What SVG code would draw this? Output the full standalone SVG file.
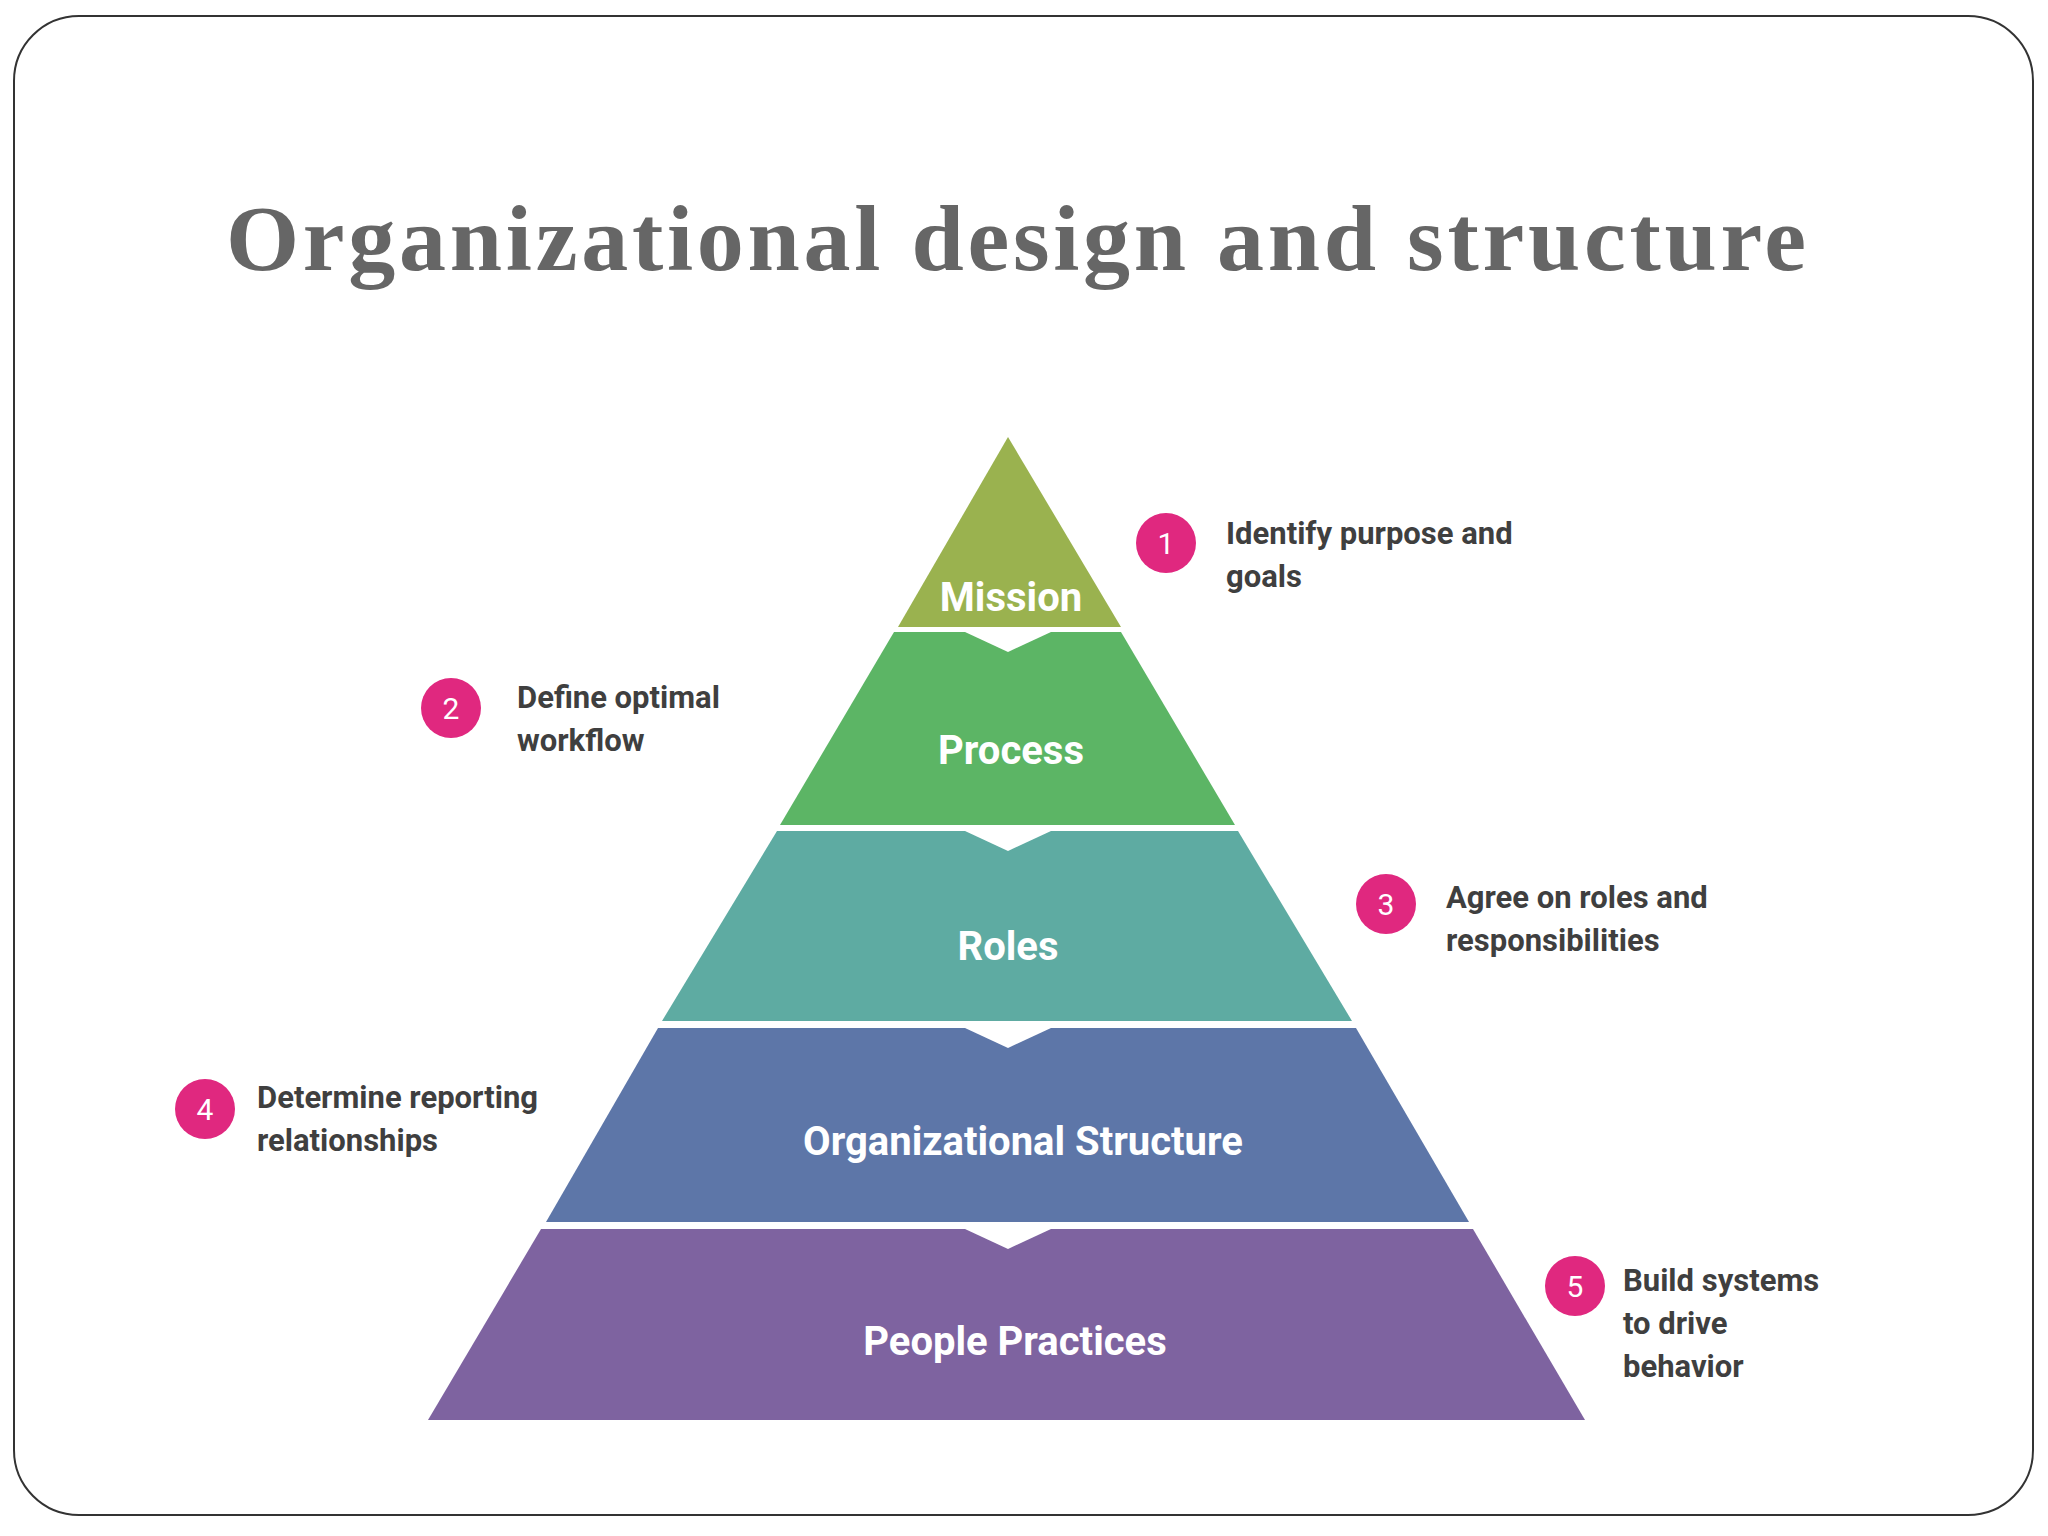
<svg xmlns="http://www.w3.org/2000/svg" width="2048" height="1536" viewBox="0 0 2048 1536">
<style>
.lbl{font-family:Roboto,"Liberation Sans",sans-serif;font-weight:bold;fill:#fff;font-size:40px;text-anchor:middle}
.num{font-family:Roboto,"Liberation Sans",sans-serif;fill:#fff;font-size:30px;text-anchor:middle}
.desc{font-family:Roboto,"Liberation Sans",sans-serif;font-weight:bold;fill:#3f3f3f;font-size:31px}
.c{fill:#e0287f}
.notch{fill:#fff}
</style>
<rect width="2048" height="1536" fill="#fff"/>
<rect x="14" y="16" width="2019" height="1499" rx="65" fill="#fff" stroke="#333" stroke-width="2"/>
<text x="1016" y="270" font-family="'Liberation Serif',serif" font-weight="bold" font-size="94" fill="#666" text-anchor="middle" textLength="1580">Organizational design and structure</text>
<g id="mission"><polygon points="1008,437 1121,627 898,627" fill="#9ab24f"/><text class="lbl" x="1011" y="611">Mission</text></g>
<g id="process"><polygon points="894,632 1121,632 1235,825 780,825" fill="#5cb565"/><polygon class="notch" points="965,632 1051,632 1008,652"/><text class="lbl" x="1011" y="764">Process</text></g>
<g id="roles"><polygon points="777,831 1238,831 1352,1021 662,1021" fill="#5eaba2"/><polygon class="notch" points="965,831 1051,831 1008,851"/><text class="lbl" x="1008" y="960">Roles</text></g>
<g id="org"><polygon points="658,1028 1356,1028 1469,1222 546,1222" fill="#5d76a8"/><polygon class="notch" points="965,1028 1051,1028 1008,1048"/><text class="lbl" x="1023" y="1155">Organizational Structure</text></g>
<g id="people"><polygon points="541,1229 1473,1229 1585,1420 428,1420" fill="#7e63a0"/><polygon class="notch" points="965,1229 1051,1229 1008,1249"/><text class="lbl" x="1015" y="1355">People Practices</text></g>
<g id="step1"><circle class="c" cx="1166" cy="543" r="30"/><text class="num" x="1166" y="554">1</text><text class="desc" x="1226" y="544">Identify purpose and</text><text class="desc" x="1226" y="587">goals</text></g>
<g id="step2"><circle class="c" cx="451" cy="708" r="30"/><text class="num" x="451" y="719">2</text><text class="desc" x="517" y="708">Define optimal</text><text class="desc" x="517" y="751">workflow</text></g>
<g id="step3"><circle class="c" cx="1386" cy="904" r="30"/><text class="num" x="1386" y="915">3</text><text class="desc" x="1446" y="908">Agree on roles and</text><text class="desc" x="1446" y="951">responsibilities</text></g>
<g id="step4"><circle class="c" cx="205" cy="1109" r="30"/><text class="num" x="205" y="1120">4</text><text class="desc" x="257" y="1108">Determine reporting</text><text class="desc" x="257" y="1151">relationships</text></g>
<g id="step5"><circle class="c" cx="1575" cy="1286" r="30"/><text class="num" x="1575" y="1297">5</text><text class="desc" x="1623" y="1291">Build systems</text><text class="desc" x="1623" y="1334">to drive</text><text class="desc" x="1623" y="1377">behavior</text></g>
<g id="connectors"/>
</svg>
